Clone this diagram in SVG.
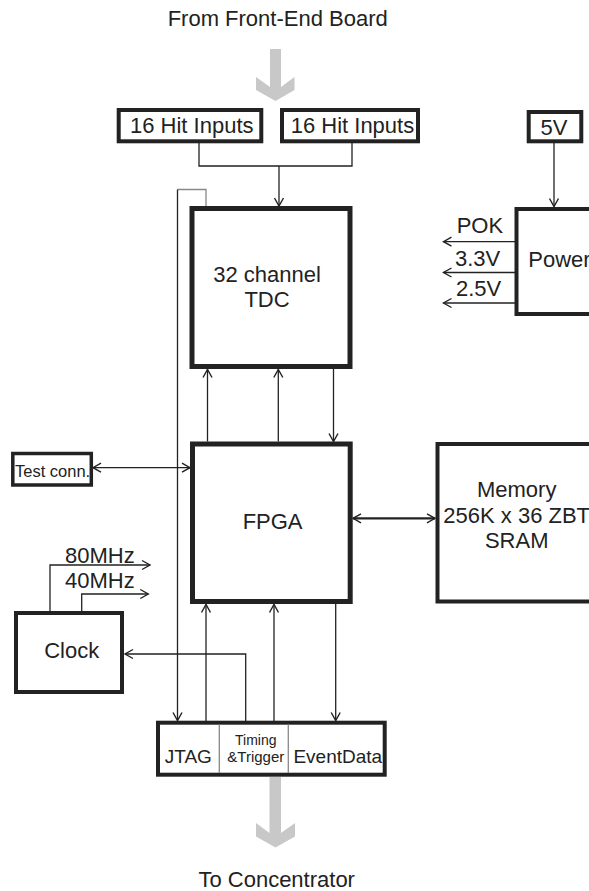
<svg xmlns="http://www.w3.org/2000/svg" width="589" height="891" viewBox="0 0 589 891">
<style>
  .box { fill: #fff; stroke: #222; stroke-width: 4; }
  .big { stroke-width: 5; }
  .t { font-family: "Liberation Sans", Arial, sans-serif; font-size: 22px; fill: #222; }
  .m { text-anchor: middle; }
  .w { fill: none; stroke: #222; stroke-width: 1.3; }
  .g { fill: none; stroke: #888; stroke-width: 1.3; }
  .div { stroke: #888; stroke-width: 1.3; }
  .bold { stroke-width: 2.2; }
  .ga { fill: #c8c8c8; stroke: none; }
</style>
<defs>
  <marker id="ah" viewBox="-10 -6 12 12" markerWidth="12" markerHeight="12" refX="0" refY="0" orient="auto" markerUnits="userSpaceOnUse">
    <path d="M-8,-4.5 L0,0 L-8,4.5" fill="none" stroke="#222" stroke-width="1.4"/>
  </marker>
  <marker id="ahs" viewBox="-10 -6 12 12" markerWidth="12" markerHeight="12" refX="0" refY="0" orient="auto-start-reverse" markerUnits="userSpaceOnUse">
    <path d="M-8,-4.5 L0,0 L-8,4.5" fill="none" stroke="#222" stroke-width="1.4"/>
  </marker>
</defs>

<text class="t m" x="277.7" y="26">From Front-End Board</text>
<polygon class="ga" points="270,49 281,49 281,87 294.5,77 294.5,90 275.5,101 256,90 256,77 270,87"/>

<g id="connectors">
  <polyline class="w" points="199,143 199,166 352,166 352,143"/>
  <line class="w" x1="279" y1="166" x2="279" y2="206" marker-end="url(#ah)"/>
  <line class="w" x1="554" y1="143" x2="554" y2="206.5" marker-end="url(#ah)"/>
  <line class="w" x1="515" y1="241.7" x2="443.5" y2="241.7" marker-end="url(#ah)"/>
  <line class="w" x1="515" y1="272.5" x2="443.5" y2="272.5" marker-end="url(#ah)"/>
  <line class="w" x1="515" y1="303" x2="443.5" y2="303" marker-end="url(#ah)"/>
  <polyline class="g" points="206,206 206,189.5 177.5,189.5"/>
  <line class="w" x1="177.5" y1="189.5" x2="177.5" y2="720.5" marker-end="url(#ah)"/>
  <line class="w" x1="207.5" y1="441.5" x2="207.5" y2="369.5" marker-end="url(#ah)"/>
  <line class="w" x1="278.3" y1="441.5" x2="278.3" y2="369.5" marker-end="url(#ah)"/>
  <line class="w" x1="333.5" y1="369" x2="333.5" y2="441.5" marker-end="url(#ah)"/>
  <line class="w" x1="93" y1="467.7" x2="190" y2="467.7" marker-start="url(#ahs)" marker-end="url(#ah)"/>
  <line class="w bold" x1="353" y1="518.3" x2="435" y2="518.3" marker-start="url(#ahs)" marker-end="url(#ah)"/>
  <polyline class="w" points="50,611 50,565 150,565" marker-end="url(#ah)"/>
  <polyline class="w" points="81.7,611 81.7,594 148.3,594" marker-end="url(#ah)"/>
  <polyline class="w" points="245.7,721 245.7,654 125,654" marker-end="url(#ah)"/>
  <line class="w" x1="206" y1="721" x2="206" y2="604.5" marker-end="url(#ah)"/>
  <line class="w" x1="274" y1="721" x2="274" y2="604.5" marker-end="url(#ah)"/>
  <line class="w" x1="335.7" y1="604" x2="335.7" y2="720.5" marker-end="url(#ah)"/>
</g>

<g id="hit1">
  <rect class="box" x="118.7" y="110" width="142.6" height="31.3"/>
  <text class="t" x="130" y="133.3">16 Hit Inputs</text>
</g>
<g id="hit2">
  <rect class="box" x="282" y="110" width="136" height="31.3"/>
  <text class="t" x="290.7" y="133.3">16 Hit Inputs</text>
</g>
<g id="v5">
  <rect class="box" x="528.7" y="112" width="52.6" height="29.3"/>
  <text class="t m" x="554" y="135">5V</text>
</g>
<g id="tdc">
  <rect class="box big" x="192" y="208.5" width="158" height="158"/>
  <text class="t m" x="267" y="281.7">32 channel</text>
  <text class="t m" x="267" y="306.7">TDC</text>
</g>
<g id="power">
  <rect class="box" x="516.5" y="209" width="100" height="105"/>
  <text class="t" x="528.3" y="266.7">Power</text>
  <text class="t" x="456.7" y="233.3">POK</text>
  <text class="t" x="455" y="265.7">3.3V</text>
  <text class="t" x="456" y="296">2.5V</text>
</g>
<g id="testconn">
  <rect class="box" x="12.8" y="453.5" width="78.5" height="31.5" style="stroke-width:3.5"/>
  <text class="t" x="15" y="477" style="font-size:16.5px">Test conn.</text>
</g>
<g id="fpga">
  <rect class="box big" x="192.5" y="444" width="157.7" height="157.5"/>
  <text class="t m" x="272.6" y="529.3">FPGA</text>
</g>
<g id="memory">
  <rect class="box" x="437.5" y="444" width="163" height="157.5"/>
  <text class="t m" x="516.7" y="496.7">Memory</text>
  <text class="t m" x="516.7" y="523.3">256K x 36 ZBT</text>
  <text class="t m" x="516.7" y="548.3">SRAM</text>
</g>
<g id="clock">
  <rect class="box" x="16" y="613" width="106" height="79"/>
  <text class="t m" x="71.7" y="658.3">Clock</text>
  <text class="t" x="65" y="563.3">80MHz</text>
  <text class="t" x="65" y="588.3">40MHz</text>
</g>
<g id="concentrator-if">
  <rect class="box" x="158" y="722.7" width="226.7" height="52"/>
  <line class="div" x1="219.3" y1="724.5" x2="219.3" y2="773"/>
  <line class="div" x1="288.3" y1="724.5" x2="288.3" y2="773"/>
  <text class="t m" x="188.3" y="762.7" style="font-size:19px">JTAG</text>
  <text class="t m" x="255.8" y="745" style="font-size:14px">Timing</text>
  <text class="t m" x="255.8" y="761.7" style="font-size:15px">&amp;Trigger</text>
  <text class="t m" x="337.8" y="762.7" style="font-size:19px">EventData</text>
</g>

<polygon class="ga" points="269.5,777 281,777 281,833 295,823 295,836.5 275.5,847.5 256,836.5 256,823 269.5,833"/>
<text class="t m" x="276.7" y="886.7">To Concentrator</text>
</svg>
